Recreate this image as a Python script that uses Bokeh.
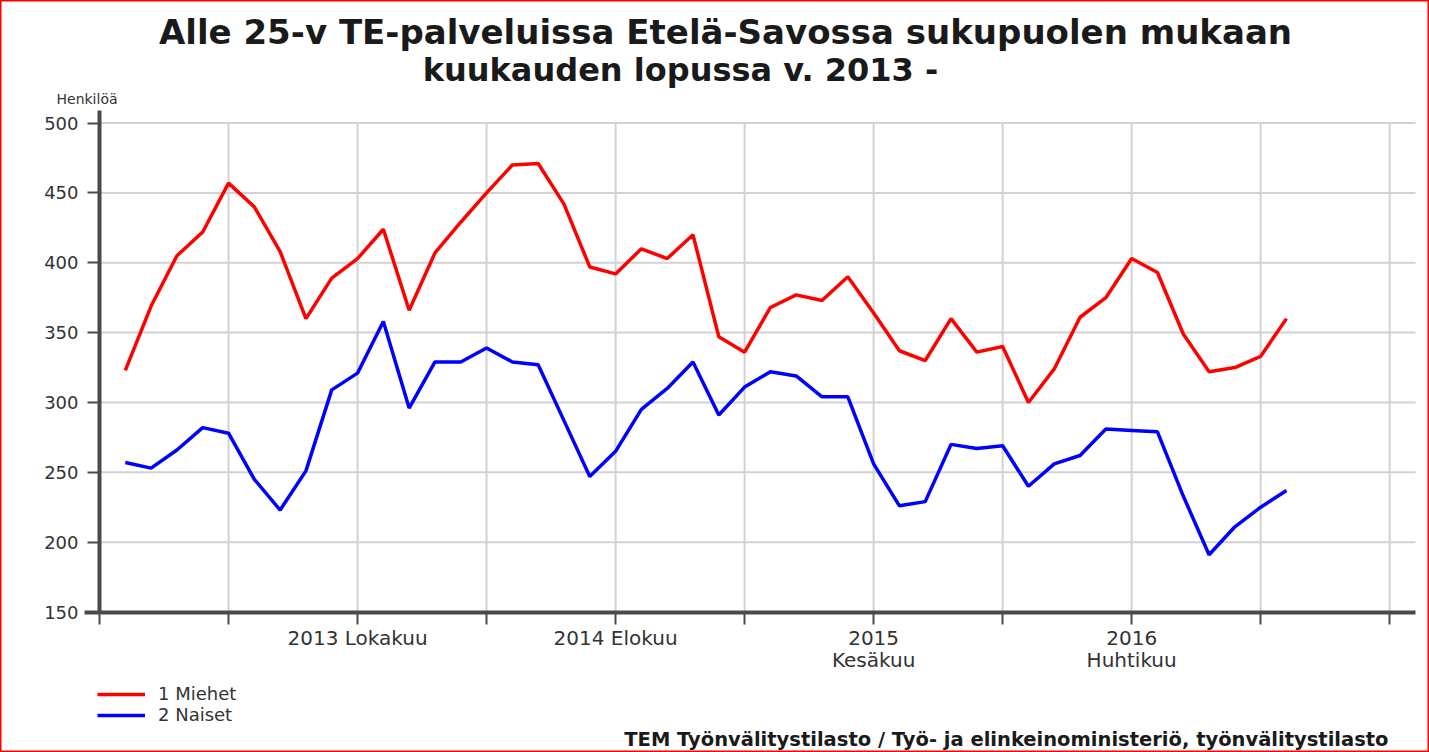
from bokeh.plotting import figure
from bokeh.models import Range1d, FixedTicker, Legend, LegendItem, Label
from bokeh.embed import file_html
from bokeh.resources import INLINE

# Kuukausi-indeksi: 0 = tammikuu 2013 ... 45 = lokakuu 2016
months = list(range(46))
miehet = [323, 369, 405, 422, 457, 440, 408, 360, 389, 403, 424, 366, 407, 429, 450,
          470, 471, 442, 397, 392, 410, 403, 420, 347, 336, 368, 377, 373, 390, 364,
          337, 330, 360, 336, 340, 300, 324, 361, 375, 403, 393, 349, 322, 325, 333, 360]
naiset = [257, 253, 266, 282, 278, 245, 223, 251, 309, 321, 358, 296, 329, 329, 339,
          329, 327, 287, 247, 265, 295, 310, 329, 291, 311, 322, 319, 304, 304, 256,
          226, 229, 270, 267, 269, 240, 256, 262, 281, 280, 279, 233, 191, 211, 225, 237]
series_names = ["1 Miehet", "2 Naiset"]
y_ticks = [150, 200, 250, 300, 350, 400, 450, 500]
x_ticks = [-1, 4, 9, 14, 19, 24, 29, 34, 39, 44, 49]
x_tick_labels = {9: "2013 Lokakuu", 19: "2014 Elokuu", 29: "2015\nKesäkuu", 39: "2016\nHuhtikuu"}
x_end = 50

title_text = "Alle 25-v TE-palveluissa Etelä-Savossa sukupuolen mukaan"
subtitle_text = "kuukauden lopussa v. 2013 -"
unit_text = "Henkilöä"
source_text = "TEM Työnvälitystilasto / Työ- ja elinkeinoministeriö, työnvälitystilasto"

FONT = "DejaVu Sans"
GRID = "#d2d2d2"
AXIS = "#4a4a4a"

# page layout (pixels): the plot frame covers the whole canvas so that
# texts outside the data area are not clipped; axes sit at fixed locations
W, H = 1429, 752
AX_LEFT_PX, AX_RIGHT_PX, AX_BOTTOM_PX = 99.0, 1415.0, 611.5
PX_PER_UNIT_Y = 1.397
px_per_month = (AX_RIGHT_PX - AX_LEFT_PX) / (x_end - x_ticks[0])
x0 = x_ticks[0] - AX_LEFT_PX / px_per_month
x1 = x0 + W / px_per_month
y0 = y_ticks[0] - (H - AX_BOTTOM_PX) / PX_PER_UNIT_Y
y1 = y0 + H / PX_PER_UNIT_Y

p = figure(width=W, height=H, output_backend="svg", toolbar_location=None,
           title=None, x_range=Range1d(x0, x1), y_range=Range1d(y0, y1))
p.min_border = 0
p.outline_line_color = "#ff0000"
p.outline_line_width = 2
p.background_fill_color = "white"
p.border_fill_color = "white"
p.xgrid.visible = False
p.ygrid.visible = False

# grid lines bounded to the axes
grid_x = x_ticks[1:]
p.segment(x0=grid_x, x1=grid_x, y0=[y_ticks[0]] * len(grid_x),
          y1=[y_ticks[-1]] * len(grid_x), line_color=GRID, line_width=2)
grid_y = y_ticks[1:]
p.segment(x0=[x_ticks[0]] * len(grid_y), x1=[x_end] * len(grid_y),
          y0=grid_y, y1=grid_y, line_color=GRID, line_width=2)

r1 = p.line(months, miehet, line_color="#ff0000", line_width=3.5)
r2 = p.line(months, naiset, line_color="#0000ff", line_width=3.5)

# axes
p.xaxis.fixed_location = y_ticks[0]
p.yaxis.fixed_location = x_ticks[0]
p.xaxis.bounds = (x_ticks[0] - 0.6, x_end)
p.yaxis.bounds = (y_ticks[0], y_ticks[-1] + 9)
p.xaxis.ticker = FixedTicker(ticks=x_ticks)
p.xaxis.major_label_overrides = {t: x_tick_labels.get(t, "") for t in x_ticks}
p.yaxis.ticker = FixedTicker(ticks=y_ticks)
for ax in (p.xaxis, p.yaxis):
    ax.axis_line_color = AXIS
    ax.axis_line_width = 4
    ax.major_tick_line_color = AXIS
    ax.major_tick_line_width = 2
    ax.major_tick_in = 0
    ax.major_tick_out = 12
    ax.minor_tick_line_color = None
    ax.major_label_text_font = FONT
    ax.major_label_text_color = "#333333"
p.xaxis.major_label_text_font_size = "20px"
p.xaxis.major_label_text_line_height = 0.92
p.xaxis.major_label_standoff = 2
p.yaxis.major_label_text_font_size = "18px"
p.yaxis.major_label_standoff = 9

legend = Legend(items=[LegendItem(label=series_names[0], renderers=[r1]),
                       LegendItem(label=series_names[1], renderers=[r2])],
                location=(97, 27), orientation="vertical",
                border_line_color=None, background_fill_alpha=0,
                padding=0, margin=0, spacing=0,
                glyph_width=48, glyph_height=18, label_height=18,
                label_standoff=13, label_text_font=FONT,
                label_text_font_size="18px", label_text_color="#333333")
p.add_layout(legend, "center")

def add_text(x, y, text, align, size, bold, color="#1a1a1a"):
    p.add_layout(Label(x=x, y=y, x_units="screen", y_units="screen", text=text,
                       text_align=align, text_baseline="middle", text_font=FONT,
                       text_font_style="bold" if bold else "normal",
                       text_font_size=size, text_color=color))

add_text(725, H - 31, title_text, "center", "34px", True)
add_text(680, H - 69, subtitle_text, "center", "32px", True)
add_text(56, H - 98, unit_text, "left", "14px", False, "#333333")
add_text(1388, H - 739, source_text, "right", "19.5px", True)

open("out.html", "w").write(file_html(p, INLINE))
